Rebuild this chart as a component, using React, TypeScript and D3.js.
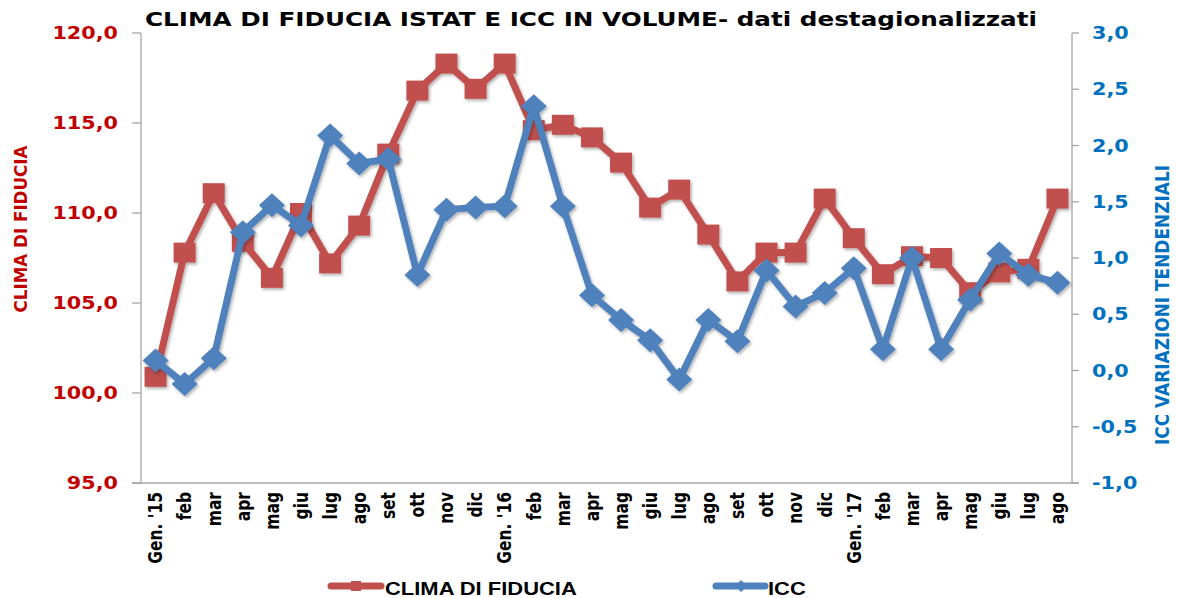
import React from 'react';
import * as d3 from 'd3';

const months = [
  "Gen. '15", 'feb', 'mar', 'apr', 'mag', 'giu', 'lug', 'ago', 'set', 'ott', 'nov', 'dic',
  "Gen. '16", 'feb', 'mar', 'apr', 'mag', 'giu', 'lug', 'ago', 'set', 'ott', 'nov', 'dic',
  "Gen. '17", 'feb', 'mar', 'apr', 'mag', 'giu', 'lug', 'ago',
];

const clima = [
  100.9, 107.8, 111.1, 108.4, 106.4, 110.0, 107.2, 109.3, 113.3, 116.8, 118.3, 116.9,
  118.3, 114.6, 114.9, 114.2, 112.8, 110.3, 111.3, 108.8, 106.2, 107.8, 107.8, 110.8,
  108.6, 106.6, 107.6, 107.5, 105.6, 106.7, 106.9, 110.8,
];

const icc = [
  0.09, -0.12, 0.11, 1.23, 1.47, 1.29, 2.09, 1.84, 1.88, 0.85, 1.43, 1.45,
  1.46, 2.35, 1.46, 0.67, 0.45, 0.27, -0.08, 0.45, 0.26, 0.89, 0.57, 0.69,
  0.91, 0.19, 1.0, 0.19, 0.63, 1.04, 0.85, 0.78,
];

const leftTicks = [95, 100, 105, 110, 115, 120];
const rightTicks = [-1, -0.5, 0, 0.5, 1, 1.5, 2, 2.5, 3];

const RED = '#C0504D';
const BLUE = '#4F81BD';
const RED_TXT = '#C00000';
const BLUE_TXT = '#0070C0';
const AXIS = '#A6A6A6';
const VERDANA = "'DejaVu Sans', Verdana, sans-serif";
const SX = 1.22; // the reference is stretched horizontally

const fmt = (v: number) => d3.format('.1f')(v).replace('.', ',').replace('−', '-');

export default function App() {
  const width = 1177;
  const height = 598;
  const left = 141;
  const right = 1072;
  const top = 33;
  const bottom = 483;

  const x = d3.scaleBand<number>()
    .domain(months.map((_, i) => i))
    .range([left, right]);
  const cx = (i: number) => (x(i) as number) + x.bandwidth() / 2;

  const yL = d3.scaleLinear().domain([95, 120]).range([bottom, top]);
  const yR = d3.scaleLinear().domain([-1, 3]).range([bottom, top]);

  const lineL = d3.line<number>().x((_, i) => cx(i)).y(d => yL(d));
  const lineR = d3.line<number>().x((_, i) => cx(i)).y(d => yR(d));

  const diamond = (px: number, py: number, w: number, h: number) =>
    `M${px},${py - h} L${px + w},${py} L${px},${py + h} L${px - w},${py} Z`;

  return (
    <svg width={width} height={height} style={{ position: 'absolute', left: 0, top: 0, background: '#fff' }}>
      <defs>
        <filter id="shadow" x="-10%" y="-10%" width="120%" height="120%">
          <feDropShadow dx="1.5" dy="2" stdDeviation="1.5" floodColor="#000" floodOpacity="0.3" />
        </filter>
      </defs>

      {/* title */}
      <text x={145} y={26} fontFamily={VERDANA} fontWeight="bold" fontSize={19.5}
        textLength={892} lengthAdjust="spacingAndGlyphs" fill="#000">
        CLIMA DI FIDUCIA ISTAT E ICC IN VOLUME- dati destagionalizzati
      </text>

      {/* axes */}
      <line x1={left} x2={left} y1={top} y2={bottom} stroke={AXIS} strokeWidth={1.3} />
      <line x1={right} x2={right} y1={top} y2={bottom} stroke={AXIS} strokeWidth={1.3} />
      <line x1={left - 9} x2={right + 7} y1={bottom} y2={bottom} stroke={AXIS} strokeWidth={1.3} />

      {leftTicks.map(t => (
        <g key={'l' + t}>
          <line x1={left - 9} x2={left} y1={yL(t)} y2={yL(t)} stroke={AXIS} strokeWidth={1.3} />
          <text transform={`translate(118,${yL(t)}) scale(${SX},1)`} textAnchor="end" dy="0.36em"
            fontFamily={VERDANA} fontWeight="bold" fontSize={17} fill={RED_TXT}>{fmt(t)}</text>
        </g>
      ))}
      {rightTicks.map(t => (
        <g key={'r' + t}>
          <line x1={right} x2={right + 7} y1={yR(t)} y2={yR(t)} stroke={AXIS} strokeWidth={1.3} />
          <text transform={`translate(1092,${yR(t)}) scale(${SX},1)`} textAnchor="start" dy="0.36em"
            fontFamily={VERDANA} fontWeight="bold" fontSize={17} fill={BLUE_TXT}>{fmt(t)}</text>
        </g>
      ))}

      {/* category labels */}
      {months.map((m, i) => (
        <text key={'m' + i} transform={`translate(${cx(i)},492) scale(${SX},1) rotate(-90)`}
          textAnchor="end" dy="0.36em" fontFamily={VERDANA} fontWeight="bold" fontSize={15.5} fill="#000">
          {m}
        </text>
      ))}

      {/* axis titles */}
      <text transform={`translate(20,229) scale(${SX},1) rotate(-90)`} textAnchor="middle" dy="0.36em"
        fontFamily={VERDANA} fontWeight="bold" fontSize={15} fill={RED_TXT}
        textLength={167} lengthAdjust="spacingAndGlyphs">CLIMA DI FIDUCIA</text>
      <text transform={`translate(1162,305) scale(${SX},1) rotate(-90)`} textAnchor="middle" dy="0.36em"
        fontFamily={VERDANA} fontWeight="bold" fontSize={16} fill={BLUE_TXT}
        textLength={280} lengthAdjust="spacingAndGlyphs">ICC VARIAZIONI TENDENZIALI</text>

      {/* CLIMA DI FIDUCIA series */}
      <g filter="url(#shadow)">
        <path d={lineL(clima) as string} fill="none" stroke={RED} strokeWidth={7} strokeLinejoin="round" />
        {clima.map((v, i) => (
          <rect key={'c' + i} x={cx(i) - 11} y={yL(v) - 10} width={22} height={20} fill={RED} />
        ))}
      </g>

      {/* ICC series */}
      <g filter="url(#shadow)">
        <path d={lineR(icc) as string} fill="none" stroke={BLUE} strokeWidth={7} strokeLinejoin="round" />
        {icc.map((v, i) => (
          <path key={'i' + i} d={diamond(cx(i), yR(v), 13, 12)} fill={BLUE} />
        ))}
      </g>

      {/* legend */}
      <g>
        <line x1={331} x2={381} y1={586} y2={586} stroke={RED} strokeWidth={7} strokeLinecap="round" />
        <rect x={351} y={581} width={10} height={10} fill={RED} />
        <text transform={`translate(385,595) scale(${SX},1)`} fontFamily="'Liberation Sans', Arial, sans-serif"
          fontWeight="bold" fontSize={18} fill="#000">CLIMA DI FIDUCIA</text>

        <line x1={716} x2={765} y1={586} y2={586} stroke={BLUE} strokeWidth={7} strokeLinecap="round" />
        <path d={diamond(741, 586, 6, 6)} fill={BLUE} />
        <text transform={`translate(768,595) scale(${SX},1)`} fontFamily="'Liberation Sans', Arial, sans-serif"
          fontWeight="bold" fontSize={18} fill="#000">ICC</text>
      </g>
    </svg>
  );
}
